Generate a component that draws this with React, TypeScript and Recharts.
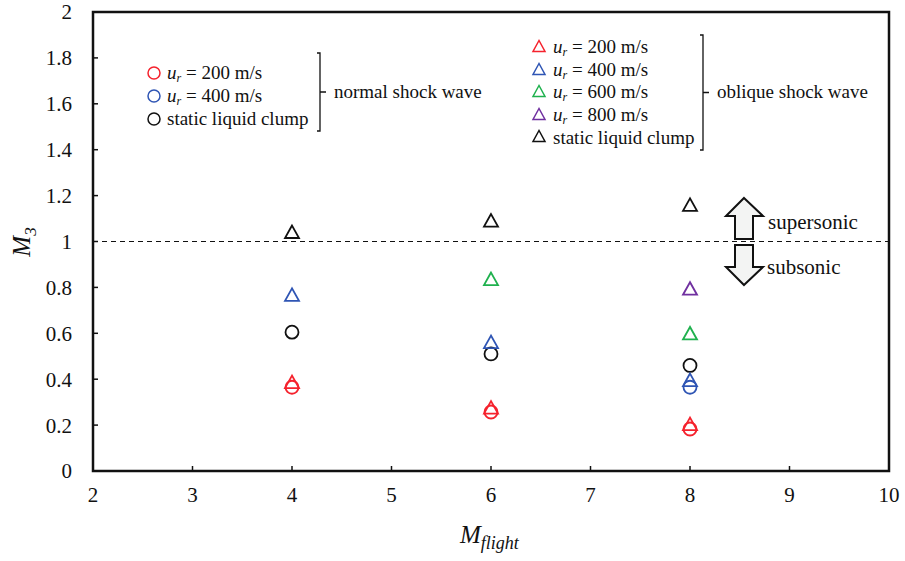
import React from 'react';
import {
  ReferenceArea,
  ReferenceLine,
  Scatter,
  ScatterChart,
  XAxis,
  YAxis,
} from 'recharts';

// flight Mach numbers tested
const flightMach = [4, 6, 8];

// normal shock wave (circles)
const normal200 = [0.365, 0.257, 0.183];
const normal400 = [null, null, 0.365];
const normalStatic = [0.605, 0.51, 0.46];

// oblique shock wave (triangles)
const oblique200 = [0.383, 0.272, 0.2];
const oblique400 = [0.763, 0.557, 0.392];
const oblique600 = [null, 0.832, 0.595];
const oblique800 = [null, null, 0.79];
const obliqueStatic = [1.037, 1.087, 1.155];

const xTicks = [2, 3, 4, 5, 6, 7, 8, 9, 10];
const yTicks = [0, 0.2, 0.4, 0.6, 0.8, 1, 1.2, 1.4, 1.6, 1.8, 2];

const RED = '#f5222d';
const BLUE = '#2f55b4';
const GREEN = '#1fb14e';
const PURPLE = '#7030a0';
const BLACK = '#111';

const FONT = 'Liberation Serif, Times New Roman, serif';

const toPoints = (values: (number | null)[]) =>
  flightMach
    .map((x, i) => ({ x, y: values[i] }))
    .filter((p) => p.y !== null);

const circleShape = (color: string) => (props: any) => (
  <circle cx={props.cx} cy={props.cy} r={6.5} fill="none" stroke={color} strokeWidth={1.8} />
);

const triangleShape = (color: string) => (props: any) => {
  const { cx, cy } = props;
  return (
    <path
      d={`M${cx},${cy - 7.5}L${cx - 7},${cy + 5}L${cx + 7},${cy + 5}Z`}
      fill="none"
      stroke={color}
      strokeWidth={1.8}
      strokeLinejoin="miter"
    />
  );
};

const series = [
  { name: 'normal 200', data: normal200, shape: circleShape(RED) },
  { name: 'normal 400', data: normal400, shape: circleShape(BLUE) },
  { name: 'normal static', data: normalStatic, shape: circleShape(BLACK) },
  { name: 'oblique 200', data: oblique200, shape: triangleShape(RED) },
  { name: 'oblique 400', data: oblique400, shape: triangleShape(BLUE) },
  { name: 'oblique 600', data: oblique600, shape: triangleShape(GREEN) },
  { name: 'oblique 800', data: oblique800, shape: triangleShape(PURPLE) },
  { name: 'oblique static', data: obliqueStatic, shape: triangleShape(BLACK) },
];

// tick labels drawn as plain serif text
const XTick = (props: any) => (
  <text
    x={props.x}
    y={props.y}
    dy="0.71em"
    textAnchor="middle"
    fontSize={21}
    fontFamily={FONT}
    fill="#111"
  >
    {props.payload.value}
  </text>
);

const YTick = (props: any) => (
  <text
    x={props.x}
    y={props.y}
    dy="0.355em"
    textAnchor="end"
    fontSize={21}
    fontFamily={FONT}
    fill="#111"
  >
    {props.payload.value}
  </text>
);

const speedLabel = (x: number, y: number, speed: number) => (
  <text x={x} y={y} fontSize={19} fontFamily={FONT} fill="#111">
    <tspan fontStyle="italic">u</tspan>
    <tspan fontStyle="italic" fontSize={12} dy={3}>r</tspan>
    <tspan dy={-3}> = {speed} m/s</tspan>
  </text>
);

const legendCircle = (x: number, y: number, color: string) => (
  <circle cx={x} cy={y} r={6} fill="none" stroke={color} strokeWidth={1.5} />
);

const legendTriangle = (x: number, y: number, color: string) => (
  <path
    d={`M${x},${y - 6.5}L${x - 6},${y + 4.5}L${x + 6},${y + 4.5}Z`}
    fill="none"
    stroke={color}
    strokeWidth={1.5}
  />
);

const bracket = (x: number, top: number, bottom: number) => {
  const mid = (top + bottom) / 2;
  return (
    <path
      d={`M${x - 3},${top}H${x}V${bottom}H${x - 3}M${x},${mid}H${x + 6}`}
      fill="none"
      stroke="#111"
      strokeWidth={1.3}
    />
  );
};

const Annotations = () => (
  <svg
    width={905}
    height={561}
    fontFamily={FONT}
    style={{ position: 'absolute', left: 0, top: 0, pointerEvents: 'none' }}
  >
    {/* normal shock wave legend */}
    {legendCircle(154, 73, RED)}
    {legendCircle(154, 96, BLUE)}
    {legendCircle(154, 119, BLACK)}
    {speedLabel(167, 79, 200)}
    {speedLabel(167, 102, 400)}
    <text x={167} y={125} fontSize={19} fontFamily={FONT} fill="#111">
      static liquid clump
    </text>
    {bracket(320, 53, 131)}
    <text x={334} y={98} fontSize={19} fontFamily={FONT} fill="#111">
      normal shock wave
    </text>

    {/* oblique shock wave legend */}
    {legendTriangle(539, 47, RED)}
    {legendTriangle(539, 70, BLUE)}
    {legendTriangle(539, 92, GREEN)}
    {legendTriangle(539, 115, PURPLE)}
    {legendTriangle(539, 137, BLACK)}
    {speedLabel(553, 53, 200)}
    {speedLabel(553, 76, 400)}
    {speedLabel(553, 98, 600)}
    {speedLabel(553, 121, 800)}
    <text x={553} y={144} fontSize={19} fontFamily={FONT} fill="#111">
      static liquid clump
    </text>
    {bracket(703, 35, 150)}
    <text x={717} y={98} fontSize={19} fontFamily={FONT} fill="#111">
      oblique shock wave
    </text>

    {/* supersonic / subsonic arrows */}
    <path
      d="M744,198L763,216H753V239H735V216H726Z"
      fill="#f3f4f3"
      stroke="#111"
      strokeWidth={2}
      strokeLinejoin="miter"
    />
    <path
      d="M744,285L763,267H753V245H735V267H726Z"
      fill="#f3f4f3"
      stroke="#111"
      strokeWidth={2}
      strokeLinejoin="miter"
    />
    <text x={768} y={229} fontSize={21} fontFamily={FONT} fill="#111">
      supersonic
    </text>
    <text x={767} y={274} fontSize={21} fontFamily={FONT} fill="#111">
      subsonic
    </text>

    {/* axis titles */}
    <text
      transform="translate(30,242) rotate(-90)"
      textAnchor="middle"
      fontSize={25}
      fontFamily={FONT}
      fill="#111"
    >
      <tspan fontStyle="italic">M</tspan>
      <tspan fontStyle="italic" fontSize={17} dy={6}>3</tspan>
    </text>
    <text x={460} y={543} fontSize={25} fontFamily={FONT} fill="#111">
      <tspan fontStyle="italic">M</tspan>
      <tspan fontStyle="italic" fontSize={18} dy={6}>flight</tspan>
    </text>
  </svg>
);

export default function App() {
  return (
    <div
      style={{
        position: 'absolute',
        left: 0,
        top: 0,
        width: 905,
        height: 561,
        background: '#fff',
        fontFamily: FONT,
      }}
    >
      <ScatterChart
        width={905}
        height={561}
        margin={{ top: 12, right: 16, bottom: 0, left: 0 }}
      >
        <XAxis
          type="number"
          dataKey="x"
          domain={[2, 10]}
          ticks={xTicks}
          interval={0}
          height={90}
          tick={<XTick />}
          tickSize={-5}
          tickMargin={21}
          axisLine={{ stroke: '#111', strokeWidth: 2 }}
          tickLine={{ stroke: '#111', strokeWidth: 1.5 }}
        />
        <YAxis
          type="number"
          dataKey="y"
          domain={[0, 2]}
          ticks={yTicks}
          interval={0}
          width={93}
          tick={<YTick />}
          tickSize={-5}
          tickMargin={26}
          axisLine={{ stroke: '#111', strokeWidth: 2 }}
          tickLine={{ stroke: '#111', strokeWidth: 1.5 }}
        />
        <ReferenceArea
          x1={2}
          x2={10}
          y1={0}
          y2={2}
          fill="none"
          fillOpacity={0}
          stroke="#111"
          strokeWidth={2.5}
        />
        <ReferenceLine y={1} stroke="#111" strokeWidth={1} strokeDasharray="5 4" />
        {series.map((s) => (
          <Scatter
            key={s.name}
            name={s.name}
            data={toPoints(s.data)}
            shape={s.shape}
            isAnimationActive={false}
          />
        ))}
      </ScatterChart>
      <Annotations />
    </div>
  );
}
